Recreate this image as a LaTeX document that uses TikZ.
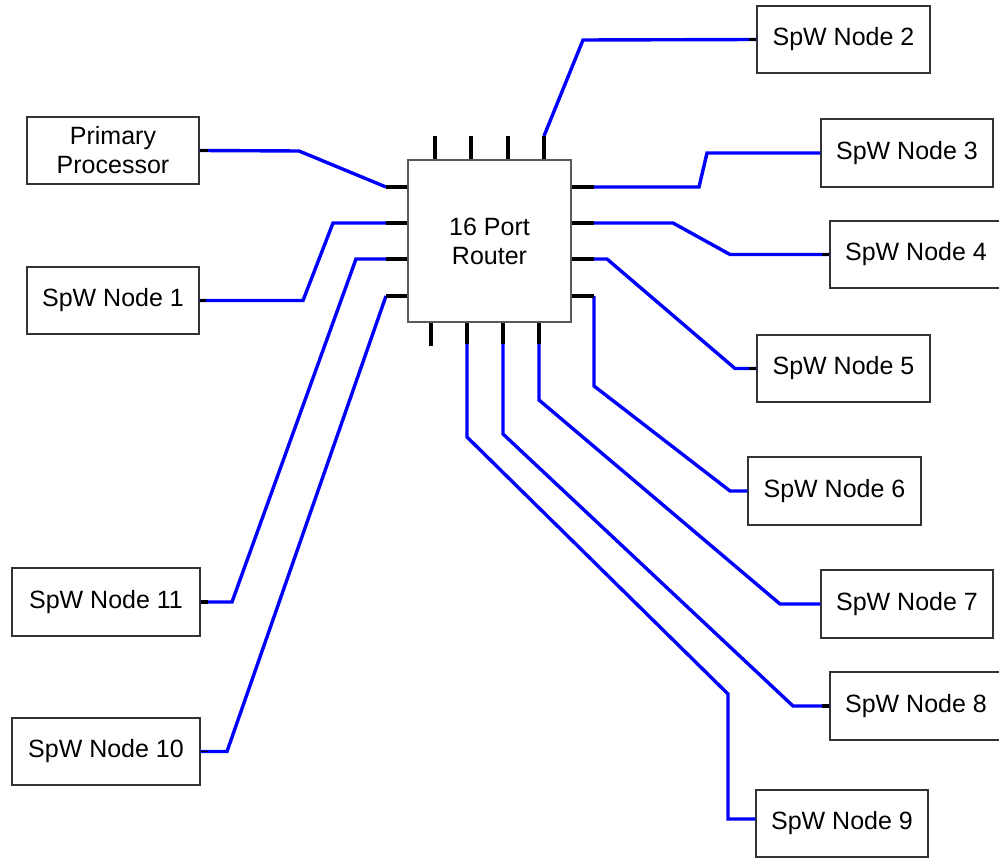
\documentclass[tikz,border=0pt]{standalone}
\usepackage{fontspec}
\setmainfont{Liberation Sans}
\definecolor{linkblue}{RGB}{0,0,255}
\begin{document}
\begin{tikzpicture}[x=1pt,y=-1pt,
  box/.style={draw=black!80, line width=1.3pt, inner sep=0pt, minimum height=67pt,
    align=center, font=\fontsize{25}{29}\selectfont},
  port/.style={line width=4pt, draw=black},
  endstub/.style={line width=3.4pt, draw=black},
  link/.style={line width=3.4pt, draw=linkblue, line join=miter}]
\useasboundingbox (0,0) rectangle (999,858);
\clip (0,0) rectangle (999,858);

% router
\node[box, draw=black!65, minimum width=163pt, minimum height=162pt] (r) at (489.5,241) {16 Port\\Router};

% end nodes
\node[box, minimum width=172pt] (pp)  at (113,150.5) {Primary\\Processor};
\node[box, minimum width=172pt] (n1)  at (113,300.5) {SpW Node 1};
\node[box, minimum width=188pt, minimum height=68pt] (n11) at (106,602) {SpW Node 11};
\node[box, minimum width=188pt] (n10) at (106,751.5) {SpW Node 10};
\node[box, minimum width=173pt] (n2)  at (843.5,39.5) {SpW Node 2};
\node[box, minimum width=172pt, minimum height=68pt] (n3)  at (907,153) {SpW Node 3};
\node[box, minimum width=172pt] (n4)  at (916,254.5) {SpW Node 4};
\node[box, minimum width=173pt] (n5)  at (843.5,368.5) {SpW Node 5};
\node[box, minimum width=173pt, minimum height=68pt] (n6)  at (834.5,491) {SpW Node 6};
\node[box, minimum width=172pt, minimum height=68pt] (n7)  at (907,604) {SpW Node 7};
\node[box, minimum width=172pt, minimum height=68pt] (n8)  at (916,706) {SpW Node 8};
\node[box, minimum width=172pt] (n9)  at (842,823.5) {SpW Node 9};

% port ends
\coordinate (pL1) at (386,187);
\coordinate (pL2) at (386,223);
\coordinate (pL3) at (386,259);
\coordinate (pL4) at (386,296);
\coordinate (pR1) at (593,187);
\coordinate (pR2) at (593,223);
\coordinate (pR3) at (593,259);
\coordinate (pR4) at (594,296);
\coordinate (pT1) at (435,136);
\coordinate (pT2) at (471,136);
\coordinate (pT3) at (508,136);
\coordinate (pT4) at (544,136);
\coordinate (pB1) at (431,346);
\coordinate (pB2) at (467,344);
\coordinate (pB3) at (503,344);
\coordinate (pB4) at (539,344);
\coordinate (c9) at (728,819);

% links
\draw[link] (pp.east) -- (299,151) -- (pL1);
\draw[link] (n1.east) -- (303,300.5) -- (333,223) -- (pL2);
\draw[link] (n11.east) -- (232,602) -- (356,259) -- (pL3);
\draw[link] (n10.east) -- (227,751.5) -- (pL4);
\draw[link] (pT4) -- (583,40) -- (n2.west);
\draw[link] (pR1) -- (699,187) -- (707,153) -- (n3.west);
\draw[link] (pR2) -- (673,223) -- (730,254.5) -- (n4.west);
\draw[link] (pR3) -- (607,259) -- (735,368.5) -- (n5.west);
\draw[link] (pR4) -- (594,386) -- (730,491) -- (n6.west);
\draw[link] (pB4) -- (539,400) -- (780,604) -- (n7.west);
\draw[link] (pB3) -- (503,434) -- (793,706) -- (n8.west);
\draw[link] (pB2) -- (467,437) -- (728,694) -- (c9) -- (c9 -| n9.west);

% router port stubs
\foreach \p in {pL1,pL2,pL3,pL4} \draw[port] (r.west |- \p) -- (\p);
\foreach \p in {pR1,pR2,pR3,pR4} \draw[port] (r.east |- \p) -- ++(22,0);
\foreach \p in {pT1,pT2,pT3,pT4} \draw[port] (r.north -| \p) -- (\p);
\foreach \p in {pB1,pB2,pB3,pB4} \draw[port] (r.south -| \p) -- (\p);

% small stubs at node sides
\draw[endstub] (pp.east) -- ++(8,0);
\draw[endstub] (n1.east) -- ++(6,0);
\draw[endstub] (n11.east) -- ++(7,0);
\draw[endstub, line width=1pt] (n10.east) -- ++(7,0);
\draw[endstub] (n2.west) -- ++(-7,0);
\draw[endstub] (n4.west) -- ++(-7,0);
\draw[endstub] (n5.west) -- ++(-7,0);
\draw[endstub] (n8.west) -- ++(-7,0);
\end{tikzpicture}
\end{document}
